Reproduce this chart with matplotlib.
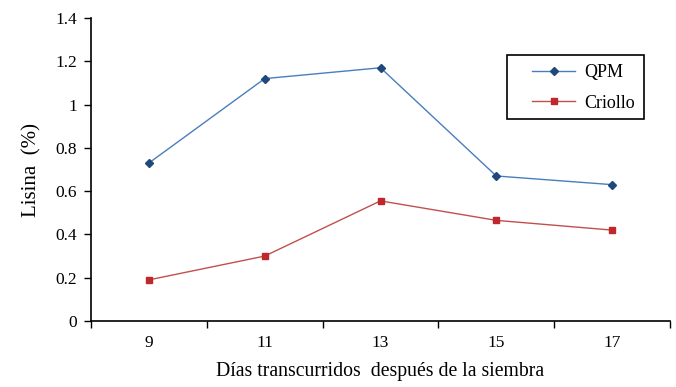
import matplotlib
matplotlib.use("Agg")
from matplotlib import pyplot as plt
from matplotlib.patches import Rectangle

plt.rcParams["font.family"] = ["Liberation Serif", "DejaVu Serif"]

dias = ["9", "11", "13", "15", "17"]
qpm = [0.73, 1.12, 1.17, 0.67, 0.63]
criollo = [0.19, 0.30, 0.555, 0.465, 0.42]

fig = plt.figure(figsize=(6.76, 3.87), dpi=100)
ax = fig.add_axes([91 / 676, 1 - 321 / 387, (670 - 91) / 676, (321 - 18) / 387])

x = list(range(len(dias)))
ax.plot(x, qpm, color="#4a7ebb", lw=1, marker="D", ms=4,
        mfc="#1f497d", mec="#1f497d", label="QPM")
ax.plot(x, criollo, color="#c0504d", lw=1, marker="s", ms=5,
        mfc="#c0272d", mec="#c0272d", label="Criollo")

ax.set_xlim(-0.5, len(dias) - 0.5)
ax.set_ylim(0, 1.4)
ax.set_yticks([0, 0.2, 0.4, 0.6, 0.8, 1.0, 1.2, 1.4])
ax.set_yticklabels(["0", "0.2", "0.4", "0.6", "0.8", "1", "1.2", "1.4"])
ax.set_xticks(x)
ax.set_xticklabels(dias)
ax.set_xticks([i - 0.5 for i in range(len(dias) + 1)], minor=True)
ax.tick_params(axis="x", which="major", length=0, pad=10, labelsize=12.5)
ax.tick_params(axis="x", which="minor", length=5, width=1)
ax.tick_params(axis="y", length=5, width=1, labelsize=12.5, pad=5)

for s in ["top", "right"]:
    ax.spines[s].set_visible(False)
for s in ["left", "bottom"]:
    ax.spines[s].set_linewidth(1.2)

ax.set_ylabel("Lisina  (%)", fontsize=15, labelpad=10)
ax.set_xlabel("Días transcurridos  después de la siembra", fontsize=14.2, labelpad=8)

# legend box drawn separately, Excel-style wide padding
fig.patches.append(Rectangle((507 / 676, 1 - 119 / 387), 137 / 676, 64 / 387,
                             transform=fig.transFigure, fill=False,
                             edgecolor="black", lw=1.2))
leg = ax.legend(loc="upper left", bbox_to_anchor=(532 / 676, 1 - 64 / 387),
                bbox_transform=fig.transFigure, fontsize=13, frameon=False,
                handlelength=2.4, labelspacing=0.75, borderpad=0,
                borderaxespad=0, handletextpad=0.5)

plt.savefig("out.png", dpi=100)
